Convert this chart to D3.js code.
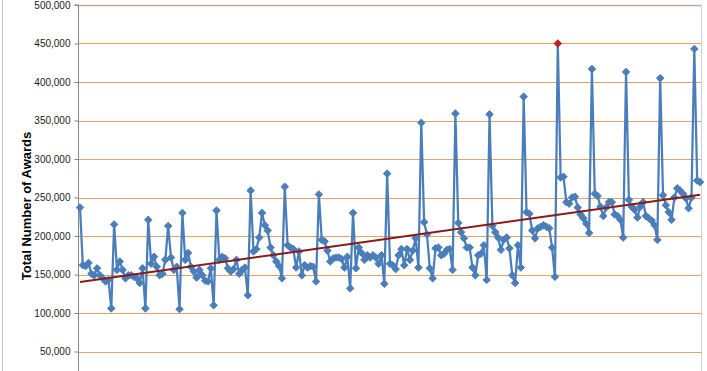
<!DOCTYPE html>
<html>
<head>
<meta charset="utf-8">
<script src="https://cdn.jsdelivr.net/npm/d3@7"></script>
<style>
  body { margin: 0; background: #fff; }
  svg { display: block; font-family: "Liberation Sans", Arial, sans-serif; }
</style>
</head>
<body>
<div id="chart"></div>
<script>
// monthly award totals (thousands)
const awards = [
  237, 162, 161, 165, 151, 149, 158, 149, 145, 141, 143, 106,
  215, 156, 167, 156, 145, 149, 149, 147, 145, 139, 158, 106,
  221, 164, 173, 160, 149, 151, 169, 213, 172, 156, 160, 105,
  230, 169, 178, 160, 154, 146, 156, 149, 142, 141, 158, 110,
  233, 169, 173, 171, 158, 154, 157, 169, 151, 156, 159, 123,
  259, 180, 183, 198, 230, 214, 207, 185, 175, 167, 161, 145,
  264, 188, 185, 183, 159, 180, 149, 162, 159, 161, 160, 141,
  254, 195, 193, 181, 167, 171, 172, 172, 170, 159, 173, 132,
  230, 158, 185, 178, 169, 175, 172, 175, 172, 164, 175, 138,
  281, 164, 162, 157, 175, 183, 162, 183, 169, 181, 197, 159,
  347, 218, 202, 158, 145, 184, 185, 175, 177, 182, 183, 156,
  359, 217, 205, 197, 185, 185, 159, 149, 175, 177, 188, 143,
  358, 213, 205, 198, 182, 195, 198, 184, 149, 139, 188, 159,
  381, 231, 229, 207, 197, 210, 212, 214, 212, 210, 185, 147,
  450, 276, 277, 244, 242, 250, 251, 237, 228, 223, 216, 204,
  417, 255, 252, 238, 226, 237, 244, 244, 228, 226, 221, 198,
  413, 247, 238, 234, 224, 238, 244, 226, 223, 220, 214, 195,
  405, 253, 240, 231, 221, 250, 262, 259, 255, 249, 236, 250,
  443, 272, 270
].map(v => v * 1000);

// the 0 line sits below the visible area, so only these ticks show
const yTicks = [50000, 100000, 150000, 200000, 250000, 300000, 350000, 400000, 450000, 500000];
const highlightIndex = 168; // peak month shown in red

const width = 707, height = 371;
const plotLeft = 78, plotRight = 701;

const svg = d3.select("#chart").append("svg")
  .attr("width", width)
  .attr("height", height);

// scales
const xScale = d3.scaleLinear()
  .domain([0, awards.length - 1])
  .range([80, 700]);

const yScale = d3.scaleLinear()
  .domain([0, 500000])
  .range([390, 5]);

// outer chart border (left edge)
svg.append("line")
  .attr("x1", 2.5).attr("x2", 2.5)
  .attr("y1", 0).attr("y2", height)
  .attr("stroke", "#c8c8c8");

// gridlines
svg.append("g")
  .selectAll("line")
  .data(yTicks)
  .enter()
  .append("line")
  .attr("x1", plotLeft).attr("x2", plotRight)
  .attr("y1", d => Math.round(yScale(d)) + 0.5)
  .attr("y2", d => Math.round(yScale(d)) + 0.5)
  .attr("stroke", d => d === 500000 ? "#c9a49a" : "#e3a462")
  .attr("stroke-width", d => d === 500000 ? 1.5 : 1);

// right edge of plot
svg.append("line")
  .attr("x1", plotRight + 0.5).attr("x2", plotRight + 0.5)
  .attr("y1", yScale(500000)).attr("y2", height)
  .attr("stroke", "#c9d3e0");

// y axis
const leftAxis = d3.axisLeft(yScale)
  .tickValues(yTicks)
  .tickFormat(d3.format(","))
  .tickSize(4)
  .tickPadding(4);

const axisG = svg.append("g")
  .attr("transform", `translate(${plotLeft + 0.5}, 0)`)
  .call(leftAxis);
axisG.select(".domain").attr("stroke", "#868686").attr("d", `M-4,${yScale(500000)}H0V${height + 20}`);
axisG.selectAll(".tick line").attr("stroke", "#868686");
axisG.selectAll(".tick text")
  .attr("fill", "#1a1a1a")
  .style("font-size", "10px");

// axis title
svg.append("text")
  .attr("transform", "translate(31, 206) rotate(-90)")
  .attr("text-anchor", "middle")
  .style("font-size", "13px")
  .style("font-weight", "bold")
  .attr("fill", "#000")
  .text("Total Number of Awards");

// series line
const line = d3.line()
  .x((d, i) => xScale(i))
  .y(d => yScale(d));

svg.append("path")
  .datum(awards)
  .attr("fill", "none")
  .attr("stroke", "#4a7ebb")
  .attr("stroke-width", 2.25)
  .attr("stroke-linejoin", "round")
  .attr("d", line);

// diamond markers
const diamond = d3.symbol().type(d3.symbolDiamond2).size(36);
svg.append("g")
  .selectAll("path")
  .data(awards)
  .enter()
  .append("path")
  .attr("transform", (d, i) => `translate(${xScale(i)}, ${yScale(d)})`)
  .attr("d", diamond)
  .attr("fill", (d, i) => i === highlightIndex ? "#c0202c" : "#4a7ebb")
  .attr("stroke", (d, i) => i === highlightIndex ? "#c0202c" : "#4a7ebb")
  .attr("stroke-width", 1);

// linear trend (least squares on the data)
const n = awards.length;
const meanX = d3.mean(awards, (d, i) => i);
const meanY = d3.mean(awards);
let sxy = 0, sxx = 0;
awards.forEach((d, i) => {
  sxy += (i - meanX) * (d - meanY);
  sxx += (i - meanX) * (i - meanX);
});
const slope = sxy / sxx;
const intercept = meanY - slope * meanX;

svg.append("line")
  .attr("x1", xScale(0)).attr("y1", yScale(intercept))
  .attr("x2", xScale(n - 1)).attr("y2", yScale(intercept + slope * (n - 1)))
  .attr("stroke", "#8b1a1a")
  .attr("stroke-width", 2);
</script>
</body>
</html>
